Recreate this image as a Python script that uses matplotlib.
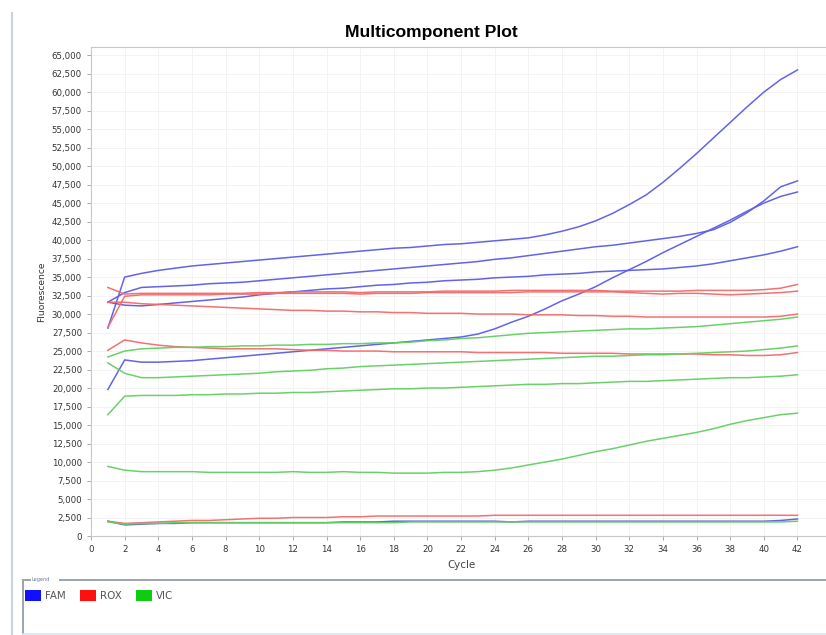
import numpy as np
import matplotlib.pyplot as plt
from matplotlib.lines import Line2D
from matplotlib.patches import Rectangle
from matplotlib.ticker import FuncFormatter, MultipleLocator

cycles = np.arange(1, 43)

# FAM wells
fam_a = [28100, 35000, 35500, 35900, 36200, 36500, 36700, 36900, 37100, 37300,
         37500, 37700, 37900, 38100, 38300, 38500, 38700, 38900, 39000, 39200,
         39400, 39500, 39700, 39900, 40100, 40300, 40700, 41200, 41800, 42600,
         43600, 44800, 46100, 47800, 49700, 51700, 53800, 55900, 58000, 60000,
         61700, 63000]
fam_b = [31600, 32900, 33600, 33700, 33800, 33900, 34100, 34200, 34300, 34500,
         34700, 34900, 35100, 35300, 35500, 35700, 35900, 36100, 36300, 36500,
         36700, 36900, 37100, 37400, 37600, 37900, 38200, 38500, 38800, 39100,
         39300, 39600, 39900, 40200, 40500, 40900, 41400, 42400, 43700, 45300,
         47200, 48000]
fam_c = [31600, 31200, 31100, 31300, 31500, 31700, 31900, 32100, 32300, 32600,
         32800, 33000, 33200, 33400, 33500, 33700, 33900, 34000, 34200, 34300,
         34500, 34600, 34700, 34900, 35000, 35100, 35300, 35400, 35500, 35700,
         35800, 35900, 36000, 36100, 36300, 36500, 36800, 37200, 37600, 38000,
         38500, 39100]
fam_d = [19800, 23800, 23500, 23500, 23600, 23700, 23900, 24100, 24300, 24500,
         24700, 24900, 25100, 25300, 25500, 25700, 25900, 26100, 26300, 26500,
         26700, 26900, 27300, 28000, 28900, 29700, 30700, 31800, 32700, 33700,
         34900, 36000, 37100, 38300, 39400, 40500, 41600, 42700, 43900, 45000,
         45900, 46500]
fam_e = [2000, 1500, 1600, 1700, 1700, 1800, 1800, 1800, 1800, 1800,
         1800, 1800, 1800, 1800, 1900, 1900, 1900, 2000, 2000, 2000,
         2000, 2000, 2000, 2000, 1900, 2000, 2000, 2000, 2000, 2000,
         2000, 2000, 2000, 2000, 2000, 2000, 2000, 2000, 2000, 2000,
         2100, 2300]

# ROX wells
rox_a = [33600, 32700, 32800, 32800, 32800, 32800, 32800, 32800, 32800, 32900,
         32900, 33000, 33000, 33000, 33000, 32900, 33000, 33000, 33000, 33000,
         33100, 33100, 33100, 33100, 33200, 33200, 33200, 33200, 33200, 33200,
         33100, 33100, 33100, 33100, 33100, 33200, 33200, 33200, 33200, 33300,
         33500, 34000]
rox_b = [28200, 32400, 32600, 32600, 32600, 32600, 32600, 32700, 32700, 32700,
         32800, 32800, 32800, 32800, 32800, 32700, 32800, 32800, 32800, 32900,
         32900, 32900, 32900, 32900, 32900, 33000, 33000, 33000, 33000, 33000,
         33000, 32900, 32800, 32700, 32800, 32800, 32700, 32600, 32700, 32800,
         32900, 33100]
rox_c = [31600, 31600, 31400, 31300, 31200, 31100, 31000, 30900, 30800, 30700,
         30600, 30500, 30500, 30400, 30400, 30300, 30300, 30200, 30200, 30100,
         30100, 30100, 30000, 30000, 30000, 29900, 29900, 29900, 29800, 29800,
         29700, 29700, 29600, 29600, 29600, 29600, 29600, 29600, 29600, 29600,
         29700, 30000]
rox_d = [25100, 26500, 26100, 25800, 25600, 25500, 25400, 25300, 25300, 25300,
         25300, 25200, 25100, 25100, 25000, 25000, 25000, 24900, 24900, 24900,
         24900, 24900, 24800, 24800, 24800, 24800, 24800, 24700, 24700, 24700,
         24700, 24600, 24600, 24600, 24600, 24600, 24500, 24500, 24400, 24400,
         24500, 24800]
rox_e = [2000, 1700, 1800, 1900, 2000, 2100, 2100, 2200, 2300, 2400,
         2400, 2500, 2500, 2500, 2600, 2600, 2700, 2700, 2700, 2700,
         2700, 2700, 2700, 2800, 2800, 2800, 2800, 2800, 2800, 2800,
         2800, 2800, 2800, 2800, 2800, 2800, 2800, 2800, 2800, 2800,
         2800, 2800]

# VIC wells
vic_a = [24200, 25000, 25300, 25400, 25500, 25500, 25600, 25600, 25700, 25700,
         25800, 25800, 25900, 25900, 26000, 26000, 26100, 26100, 26200, 26400,
         26500, 26700, 26800, 27000, 27200, 27400, 27500, 27600, 27700, 27800,
         27900, 28000, 28000, 28100, 28200, 28300, 28500, 28700, 28900, 29100,
         29300, 29600]
vic_b = [23400, 22000, 21400, 21400, 21500, 21600, 21700, 21800, 21900, 22000,
         22200, 22300, 22400, 22600, 22700, 22900, 23000, 23100, 23200, 23300,
         23400, 23500, 23600, 23700, 23800, 23900, 24000, 24100, 24200, 24300,
         24300, 24400, 24500, 24500, 24600, 24700, 24800, 24900, 25000, 25200,
         25400, 25700]
vic_c = [16400, 18900, 19000, 19000, 19000, 19100, 19100, 19200, 19200, 19300,
         19300, 19400, 19400, 19500, 19600, 19700, 19800, 19900, 19900, 20000,
         20000, 20100, 20200, 20300, 20400, 20500, 20500, 20600, 20600, 20700,
         20800, 20900, 20900, 21000, 21100, 21200, 21300, 21400, 21400, 21500,
         21600, 21800]
vic_d = [9400, 8900, 8700, 8700, 8700, 8700, 8600, 8600, 8600, 8600,
         8600, 8700, 8600, 8600, 8700, 8600, 8600, 8500, 8500, 8500,
         8600, 8600, 8700, 8900, 9200, 9600, 10000, 10400, 10900, 11400,
         11800, 12300, 12800, 13200, 13600, 14000, 14500, 15100, 15600, 16000,
         16400, 16600]
vic_e = [1900, 1600, 1700, 1700, 1800, 1800, 1800, 1800, 1800, 1800,
         1800, 1800, 1800, 1800, 1800, 1800, 1800, 1800, 1900, 1900,
         1900, 1900, 1900, 1900, 1900, 1900, 1900, 1900, 1900, 1900,
         1900, 1900, 1900, 1900, 1900, 1900, 1900, 1900, 1900, 1900,
         1900, 2000]

dyes = ["FAM", "ROX", "VIC"]
line_colors = {"FAM": "#5b5be8", "ROX": "#f26a6a", "VIC": "#62cf62"}
key_colors = {"FAM": "#1010ff", "ROX": "#ff1010", "VIC": "#10cc10"}
wells = {
    "FAM": [fam_a, fam_b, fam_c, fam_d, fam_e],
    "ROX": [rox_a, rox_b, rox_c, rox_d, rox_e],
    "VIC": [vic_a, vic_b, vic_c, vic_d, vic_e],
}

plt.rcParams["font.family"] = ["DejaVu Sans"]

fig = plt.figure(figsize=(8.26, 6.35), dpi=100)
ax = fig.add_axes([0.1102, 0.1559, 0.896, 0.7701])

for dye in dyes:
    for trace in wells[dye]:
        ax.plot(cycles, trace, color=line_colors[dye], lw=1.1, alpha=0.95,
                solid_joinstyle="round")

ax.set_xlim(0, 44)
ax.set_ylim(0, 66100)
ax.xaxis.set_major_locator(MultipleLocator(2))
# the last tick sits at the right edge of the window, so it stays unlabelled
ax.xaxis.set_major_formatter(FuncFormatter(lambda v, p: "" if v > 42 else f"{int(v)}"))
ax.yaxis.set_major_locator(MultipleLocator(2500))
ax.yaxis.set_major_formatter(FuncFormatter(lambda v, p: f"{int(v):,}"))
ax.tick_params(axis="both", labelsize=6.2, colors="#9a9a9a", labelcolor="#333333",
               length=3, width=0.6)
ax.grid(True, color="#f3f3f3", lw=0.7)
ax.set_axisbelow(True)
for side in ["top", "left", "bottom"]:
    ax.spines[side].set_color("#c8c8c8")
    ax.spines[side].set_linewidth(0.8)
ax.spines["right"].set_visible(False)

ax.set_xlabel("Cycle", fontsize=7.4, color="#444444", labelpad=4)
ax.set_ylabel("Fluorescence", fontsize=6.6, color="#333333", labelpad=4)
fig.text(0.522, 0.949, "Multicomponent Plot", ha="center", va="center",
         fontsize=12.6, fontweight="bold", family="Liberation Sans")

# window border and legend frame
W, H = 826, 635
def px(x, y):
    return x / W, 1 - y / H

fig.add_artist(Line2D([12 / W, 12 / W], [0, 1 - 13 / H], transform=fig.transFigure,
                      color="#c9d4dc", lw=1.6))
fig.add_artist(Line2D([23 / W, 30 / W], [1 - 580 / H] * 2, transform=fig.transFigure,
                      color="#9aa4ae", lw=1.4))
fig.add_artist(Line2D([60 / W, 1], [1 - 580 / H] * 2, transform=fig.transFigure,
                      color="#9aa4ae", lw=1.4))
fig.add_artist(Line2D([23 / W, 23 / W], [0, 1 - 580 / H], transform=fig.transFigure,
                      color="#9aa4ae", lw=1.4))
fig.add_artist(Line2D([23 / W, 1], [1 - 634 / H] * 2, transform=fig.transFigure,
                      color="#d6e6f2", lw=1.2))
fig.text(*px(32, 579), "Legend", fontsize=3.6, color="#6680a0", va="center")

key_x = [25, 80, 136]
for dye, kx in zip(dyes, key_x):
    x0, y0 = px(kx, 601)
    fig.add_artist(Rectangle((x0, y0), 16 / W, 11 / H, transform=fig.transFigure,
                             facecolor=key_colors[dye], edgecolor="none"))
    fig.text(*px(kx + 20, 596), dye, fontsize=7.4, color="#555555", va="center")

fig.savefig("out.png", dpi=100)
